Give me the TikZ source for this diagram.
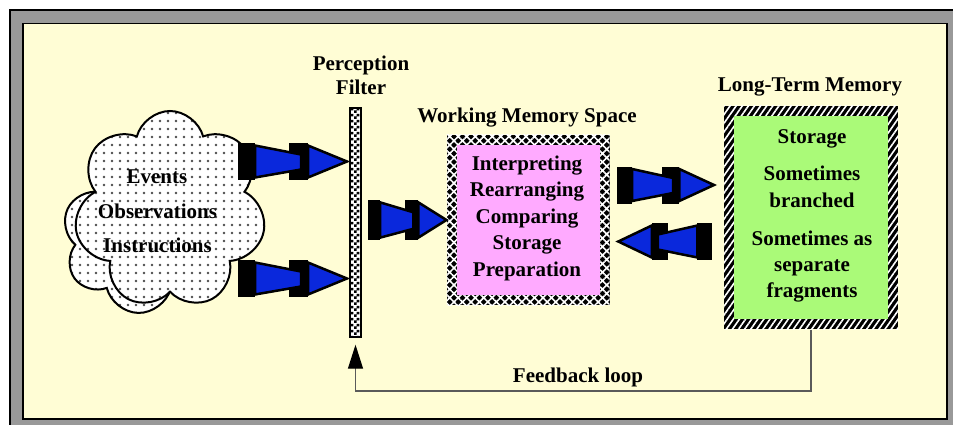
\documentclass[tikz,border=0pt]{standalone}
\usepackage{fontspec}
\setmainfont{Liberation Serif}
\usetikzlibrary{shapes.symbols,patterns,patterns.meta,arrows.meta}
\definecolor{cream}{RGB}{255,253,213}
\definecolor{framegray}{RGB}{153,153,153}
\definecolor{wmpink}{RGB}{255,170,255}
\definecolor{ltmgreen}{RGB}{170,250,120}
\definecolor{arrowblue}{RGB}{10,40,220}
\definecolor{loopgray}{RGB}{90,90,90}
\pgfdeclarepatternformonly{bigcheck}{\pgfpointorigin}{\pgfpoint{6pt}{6pt}}{\pgfpoint{6pt}{6pt}}{%
  \pgfpathrectangle{\pgfpointorigin}{\pgfpoint{3pt}{3pt}}%
  \pgfpathrectangle{\pgfpoint{3pt}{3pt}}{\pgfpoint{3pt}{3pt}}%
  \pgfusepath{fill}}
\tikzset{
  txt/.style={font=\bfseries\fontsize{21}{26}\selectfont, inner sep=0pt, anchor=base},
  puff/.style={cloud, cloud puffs=7, cloud puff arc=150, draw=black, line width=2pt,
    preaction={fill=white}, pattern={Dots[distance=8pt,radius=1.3pt]}, pattern color=gray!60!black, inner sep=0pt},
  wmborder/.style={rectangle, inner sep=0pt, preaction={fill=black},
    pattern={Hatch[angle=45,distance=6pt,line width=1.6pt]}, pattern color=white},
  ltmborder/.style={rectangle, inner sep=0pt, preaction={fill=black},
    pattern={Lines[angle=55,distance=5pt,line width=1.6pt]}, pattern color=white},
  fatarrow/.pic={
    \fill[black] (0,-18.5) rectangle (17,18.5);
    \fill[black] (51,-18.5) rectangle (70,18.5);
    \filldraw[fill=arrowblue, draw=black, line width=2.5pt, line join=miter] (17,-16) -- (63,-7) -- (63,8) -- (17,16) -- cycle;
    \filldraw[fill=arrowblue, draw=black, line width=2.5pt, line join=miter] (70,-16) -- (109,0) -- (70,16) -- cycle;
  }
}
\begin{document}
\begin{tikzpicture}[x=1pt,y=-1pt]
\useasboundingbox (0,0) rectangle (953,425);
\clip (0,0) rectangle (953,425);
\fill[white] (0,0) rectangle (953,425);
\filldraw[fill=framegray, draw=black, line width=1.5pt] (10,10) rectangle (975,445);
\filldraw[fill=cream, draw=black, line width=1.5pt] (23,23.5) rectangle (947,419);

% cloud
\node[puff, minimum width=178pt, minimum height=160pt, rotate=20] (cloudback) at (150,232) {};
\node[puff, minimum width=192pt, minimum height=198pt] (cloud) at (170,210) {};
\node[txt] (t1) at (157,183) {Events};
\node[txt] (t2) at (157.5,218) {Observations};
\node[txt] (t3) at (157.5,252) {Instructions};

% perception filter
\node[txt] (pf1) at (361,71) {Perception};
\node[txt] (pf2) at (361,95) {Filter};
\node[rectangle, inner sep=0pt, minimum width=11pt, minimum height=229pt,
  preaction={fill=white}, pattern=bigcheck, pattern color=black, draw=black, line width=1.4pt] (filter) at (355.5,222.5) {};

% working memory
\node[txt] (wml) at (527,123) {Working Memory Space};
\node[wmborder, minimum width=163pt, minimum height=170pt] (wm) at (528,220) {};
\node[rectangle, fill=wmpink, inner sep=0pt, minimum width=143pt, minimum height=150pt] (wmin) at (wm.center) {};
\node[txt] (w1) at (527,170) {Interpreting};
\node[txt] (w2) at (527,196.5) {Rearranging};
\node[txt] (w3) at (527,223) {Comparing};
\node[txt] (w4) at (527,249.5) {Storage};
\node[txt] (w5) at (527,276) {Preparation};

% long-term memory
\node[txt] (ltml) at (810,92) {Long-Term Memory};
\node[ltmborder, minimum width=174pt, minimum height=223pt] (ltm) at (811,217.5) {};
\node[rectangle, fill=ltmgreen, inner sep=0pt, minimum width=154pt, minimum height=203pt] (ltmin) at (ltm.center) {};
\node[txt] (l1) at (812,143) {Storage};
\node[txt] (l2) at (812,180) {Sometimes};
\node[txt] (l3) at (812,207) {branched};
\node[txt] (l4) at (812,245) {Sometimes as};
\node[txt] (l5) at (812,271.5) {separate};
\node[txt] (l6) at (812,297) {fragments};

% fat arrows
\pic at (238,161.5) {fatarrow};
\pic at (238,278.5) {fatarrow};
\pic[xscale=0.72, yscale=1.1] at (368,220) {fatarrow};
\pic[xscale=0.89] at (617,185) {fatarrow};
\pic[xscale=-0.86] at (712,241.5) {fatarrow};

% feedback loop
\coordinate (fbtip) at ([yshift=-7pt]filter.south);
\draw[loopgray, line width=1.2pt, -{Triangle[length=24pt,width=15pt,fill=black,color=black]}]
  (ltm.south) -- (ltm.south |- 0,391) -- (fbtip |- 0,391) -- (fbtip);
\node[txt] (fbl) at (578,382) {Feedback loop};
\end{tikzpicture}
\end{document}
